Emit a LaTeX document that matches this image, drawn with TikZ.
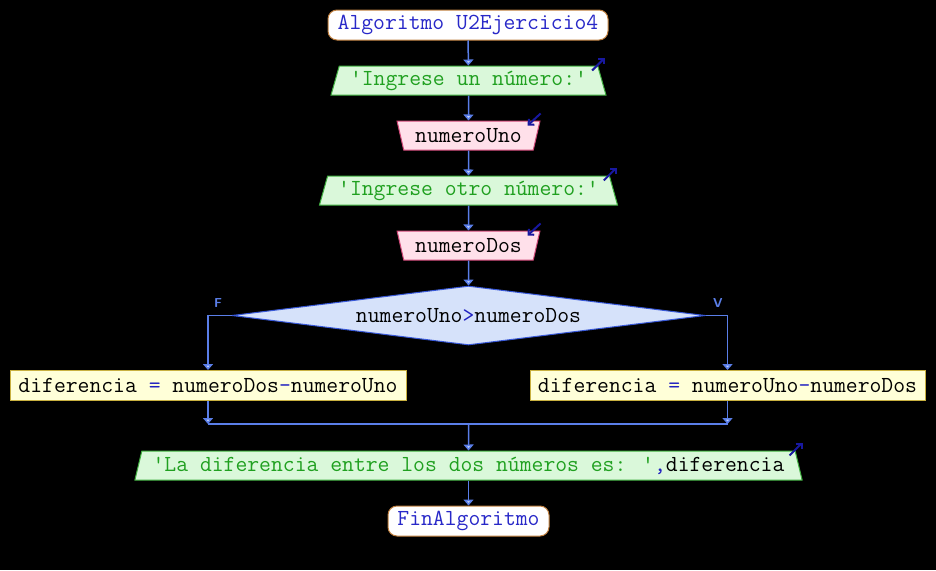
\documentclass[tikz,border=0pt]{standalone}
\usepackage{fontspec}
\usetikzlibrary{shapes.geometric,arrows.meta,calc}
\definecolor{termdraw}{HTML}{C08040}
\definecolor{termtext}{HTML}{2828C8}
\definecolor{outfill}{HTML}{DAF8DA}
\definecolor{outdraw}{HTML}{40B040}
\definecolor{outtext}{HTML}{20A020}
\definecolor{infill}{HTML}{FFE0EA}
\definecolor{indraw}{HTML}{D04878}
\definecolor{decfill}{HTML}{D6E2FA}
\definecolor{decdraw}{HTML}{3858D8}
\definecolor{asgfill}{HTML}{FFFFD8}
\definecolor{asgdraw}{HTML}{C8B040}
\definecolor{opblue}{HTML}{2020C0}
\definecolor{conn}{HTML}{5A7EE8}
\definecolor{connfill}{HTML}{C0D0FA}
\definecolor{markblue}{HTML}{1818A0}
\begin{document}
\begin{tikzpicture}[x=1pt,y=-1pt,
  base/.style={font=\ttfamily\fontsize{23}{23}\selectfont, inner sep=0pt, line width=1pt},
  term/.style={base, rectangle, rounded corners=9pt, draw=termdraw, fill=white, text=termtext, minimum height=30pt},
  outp/.style={base, trapezium, trapezium left angle=69, trapezium right angle=69, trapezium stretches=true, draw=outdraw, fill=outfill, text=outtext, minimum height=29pt},
  inp/.style={base, trapezium, trapezium left angle=111, trapezium right angle=111, trapezium stretches=true, draw=indraw, fill=infill, text=black, minimum height=29pt, minimum width=143pt},
  dec/.style={base, diamond, aspect=8, draw=decdraw, fill=decfill, text=black, minimum width=473pt, minimum height=59pt},
  asg/.style={base, rectangle, draw=asgdraw, fill=asgfill, text=black, minimum height=30pt},
  flow/.style={draw=conn, line width=1.5pt, -{Triangle[width=10pt,length=6pt,fill=connfill]}},
  line/.style={draw=conn, line width=1.5pt},
  iomark/.style={draw=markblue, line width=2pt, -{Straight Barb[length=4pt,width=8pt]}},
  lab/.style={font=\sffamily\bfseries\fontsize{13}{13}\selectfont, text=conn, inner sep=0pt}
]
\fill[black] (0,0) rectangle (936,570);
\useasboundingbox (0,0) rectangle (936,570);

\node[term, minimum width=280pt] (start) at (468,25) {Algoritmo U2Ejercicio4};
\node[outp, minimum width=275pt] (o1) at (468.5,80.5) {'Ingrese un número:'};
\node[inp] (i1) at (468.5,135.5) {numeroUno};
\node[outp, minimum width=299pt] (o2) at (468.5,190.5) {'Ingrese otro número:'};
\node[inp] (i2) at (468.5,245.5) {numeroDos};
\node[dec] (d) at (468.5,315.5) {numeroUno\textcolor{opblue}{>}numeroDos};
\node[asg, minimum width=396pt] (a1) at (208,385.5) {diferencia \textcolor{opblue}{=} numeroDos\textcolor{opblue}{-}numeroUno};
\node[asg, minimum width=395pt] (a2) at (727.5,385.5) {diferencia \textcolor{opblue}{=} numeroUno\textcolor{opblue}{-}numeroDos};
\node[outp, minimum width=671pt] (o3) at (468.5,465.5) {'La diferencia entre los dos números es: '\textcolor{opblue}{,}\textcolor{black}{diferencia}};
\node[term, minimum width=161pt] (end) at (468.5,521) {FinAlgoritmo};

\node[lab] (lf) at (218,303) {F};
\node[lab] (lv) at (718,303) {V};

\coordinate (jl) at (208,424);
\coordinate (jr) at (727.5,424);
\coordinate (jm) at (468.5,424);

\draw[flow] (start) -- (o1);
\draw[flow] (o1) -- (i1);
\draw[flow] (i1) -- (o2);
\draw[flow] (o2) -- (i2);
\draw[flow] (i2) -- (d);
\draw[flow] (d.west) -| (a1.north);
\draw[flow] (d.east) -| (a2.north);
\draw[flow] (a1.south) -- (jl);
\draw[flow] (a2.south) -- (jr);
\draw[line] (jl) -- (jr);
\draw[flow] (jm) -- (o3);
\draw[flow] (o3) -- (end);

\draw[iomark] ([shift={(-6,5)}]o1.top right corner) -- ++(13,-13);
\draw[iomark] ([shift={(-6,5)}]o2.top right corner) -- ++(13,-13);
\draw[iomark] ([shift={(-6,5)}]o3.top right corner) -- ++(13,-13);
\draw[iomark] ([shift={(0,-7)}]i1.top right corner) -- ++(-13,12);
\draw[iomark] ([shift={(0,-7)}]i2.top right corner) -- ++(-13,12);
\end{tikzpicture}
\end{document}
